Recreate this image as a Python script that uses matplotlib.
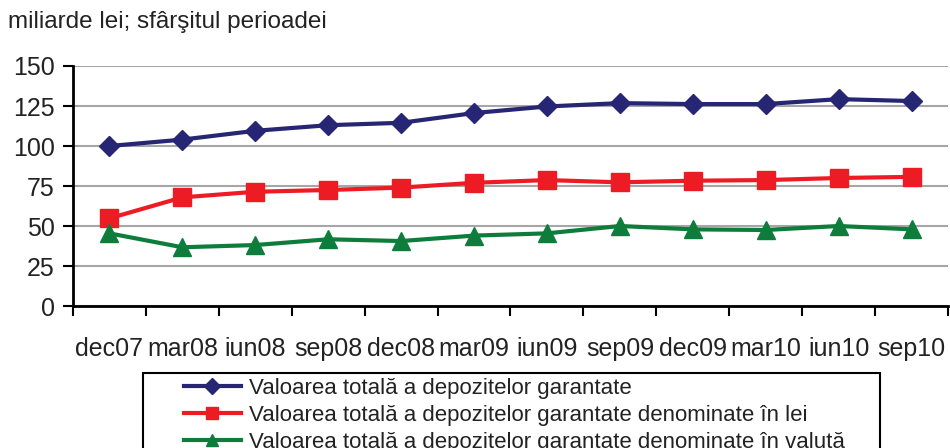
import matplotlib.pyplot as plt
import numpy as np
from matplotlib.patches import Rectangle

plt.rcParams['font.family'] = ['Liberation Sans', 'DejaVu Sans']

# date, miliarde lei
periods = ['dec07', 'mar08', 'iun08', 'sep08', 'dec08', 'mar09',
           'iun09', 'sep09', 'dec09', 'mar10', 'iun10', 'sep10']
total = [100.0, 104.0, 109.5, 113.0, 114.5, 120.6, 124.7, 126.8, 126.2, 126.2, 129.3, 128.1]
lei = [54.8, 67.9, 71.4, 72.5, 74.0, 77.0, 78.7, 77.3, 78.3, 78.7, 80.0, 80.7]
valuta = [45.4, 36.7, 38.1, 41.7, 40.6, 44.0, 45.4, 50.0, 47.9, 47.5, 50.0, 47.9]
labels = ['Valoarea totală a depozitelor garantate',
          'Valoarea totală a depozitelor garantate denominate în lei',
          'Valoarea totală a depozitelor garantate denominate în valută']

fig = plt.figure(figsize=(9.5, 4.48), dpi=100)
ax = fig.add_axes([73/950, 1-306/448, 875/950, 240/448])

x = np.arange(len(periods))
ax.plot(x, total, color='#262674', lw=3, marker='D', ms=10, label=labels[0])
ax.plot(x, lei, color='#ED1C24', lw=3, marker='s', ms=13, label=labels[1])
ax.plot(x, valuta, color='#0E7D3C', lw=3, marker='^', ms=13, label=labels[2])

ax.set_xlim(-0.5, len(periods) - 0.5)
ax.set_ylim(0, 150)
ax.set_yticks(np.arange(0, 151, 25))
ax.set_xticks(x)
ax.set_xticklabels(periods)
ax.set_xticks(np.arange(-0.5, len(periods)), minor=True)
ax.tick_params(axis='x', which='major', length=0, pad=22, labelsize=18,
               labelcolor='#222222')
ax.tick_params(axis='x', which='minor', length=7, width=1.5, direction='out')
ax.tick_params(axis='y', length=7, width=1.5, labelsize=18, pad=6,
               labelcolor='#222222')
ax.grid(axis='y', color='#a6a6a6', lw=1.5)
ax.set_axisbelow(True)
for s in ['top', 'right']:
    ax.spines[s].set_visible(False)
for s in ['left', 'bottom']:
    ax.spines[s].set_linewidth(2)
ax.spines['bottom'].set_zorder(5)

fig.text(8/950, 1-22/448, 'miliarde lei; sfârşitul perioadei', fontsize=17.5,
         va='center', ha='left', color='#222222')

# legend box, cut off at the bottom edge as in the source
fig.patches.append(Rectangle((143/950, -0.1), 737/950, 0.1 + 1 - 373/448,
                             transform=fig.transFigure, fill=False,
                             edgecolor='black', lw=1.5))
leg = fig.legend(loc='upper left', bbox_to_anchor=(178/950, 1-372/448),
                 frameon=False, handlelength=2.6, handletextpad=0.35,
                 labelspacing=0.28, borderpad=0.25, borderaxespad=0,
                 prop={'size': 16})
for t in leg.get_texts():
    t.set_color('#222222')
for h in leg.legend_handles:
    h.set_markersize(8)

fig.savefig('out.png', dpi=100)
